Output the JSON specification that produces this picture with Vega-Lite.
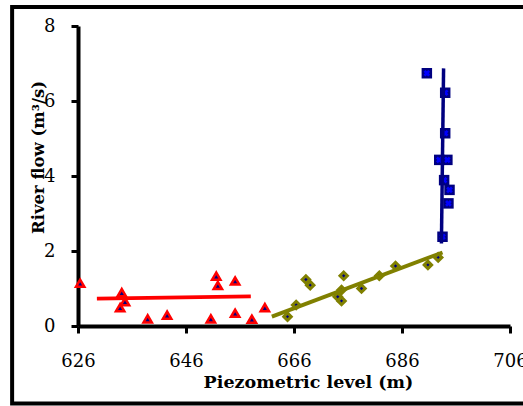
{
  "$schema": "https://vega.github.io/schema/vega-lite/v6.json",
  "width": 432,
  "height": 300,
  "autosize": {"type": "none"},
  "padding": {"left": 78, "top": 26, "right": 13, "bottom": 80},
  "background": "white",
  "config": {
    "font": "DejaVu Serif",
    "view": {"stroke": null},
    "axis": {
      "grid": false,
      "domainColor": "black",
      "domainWidth": 4,
      "tickColor": "black",
      "tickWidth": 3,
      "tickSize": 7,
      "labelFontSize": 18,
      "labelColor": "black",
      "labelFlush": false,
      "labelOverlap": false,
      "titleFontWeight": "bold",
      "titleColor": "black"
    }
  },
  "datasets": {
    "frame": [{"x0": 613.8, "x1": 730, "y0": 8.507, "y1": -2.067}],
    "points": [
      {"series": "A", "x": 626.4, "y": 1.14},
      {"series": "A", "x": 634.1, "y": 0.89},
      {"series": "A", "x": 634.7, "y": 0.65},
      {"series": "A", "x": 633.8, "y": 0.49},
      {"series": "A", "x": 638.9, "y": 0.19},
      {"series": "A", "x": 642.5, "y": 0.29},
      {"series": "A", "x": 650.6, "y": 0.19},
      {"series": "A", "x": 651.6, "y": 1.33},
      {"series": "A", "x": 651.9, "y": 1.08},
      {"series": "A", "x": 655.1, "y": 1.2},
      {"series": "A", "x": 655.1, "y": 0.34},
      {"series": "A", "x": 658.2, "y": 0.18},
      {"series": "A", "x": 660.6, "y": 0.49},
      {"series": "B", "x": 664.8, "y": 0.25},
      {"series": "B", "x": 666.4, "y": 0.56},
      {"series": "B", "x": 668.2, "y": 1.24},
      {"series": "B", "x": 669.0, "y": 1.09},
      {"series": "B", "x": 674.1, "y": 0.78},
      {"series": "B", "x": 674.8, "y": 0.67},
      {"series": "B", "x": 674.8, "y": 0.96},
      {"series": "B", "x": 675.2, "y": 1.34},
      {"series": "B", "x": 678.5, "y": 1.0},
      {"series": "B", "x": 681.8, "y": 1.34},
      {"series": "B", "x": 684.8, "y": 1.6},
      {"series": "B", "x": 690.8, "y": 1.63},
      {"series": "B", "x": 692.7, "y": 1.83},
      {"series": "C", "x": 690.6, "y": 6.74},
      {"series": "C", "x": 694.0, "y": 6.22},
      {"series": "C", "x": 694.0, "y": 5.14},
      {"series": "C", "x": 692.9, "y": 4.43},
      {"series": "C", "x": 694.4, "y": 4.43},
      {"series": "C", "x": 693.8, "y": 3.89},
      {"series": "C", "x": 694.8, "y": 3.63},
      {"series": "C", "x": 694.6, "y": 3.27},
      {"series": "C", "x": 693.5, "y": 2.38}
    ],
    "lines": [
      {"series": "A", "x": 629.5, "y": 0.73},
      {"series": "A", "x": 658.0, "y": 0.79},
      {"series": "B", "x": 661.9, "y": 0.25},
      {"series": "B", "x": 693.5, "y": 1.96},
      {"series": "C", "x": 693.3, "y": 2.2},
      {"series": "C", "x": 693.7, "y": 6.87}
    ]
  },
  "encoding": {
    "x": {
      "field": "x",
      "type": "quantitative",
      "scale": {"domain": [626, 706], "nice": false, "zero": false},
      "axis": {
        "title": "Piezometric level (m)",
        "values": [626, 646, 666, 686, 706],
        "labelFont": "DejaVu Serif",
        "titleFont": "DejaVu Serif",
        "titleFontSize": 17.5,
        "labelPadding": 19,
        "titleX": 230,
        "titleY": 61,
        "titleBaseline": "alphabetic",
        "titleAlign": "center"
      }
    },
    "y": {
      "field": "y",
      "type": "quantitative",
      "scale": {"domain": [0, 8], "nice": false, "zero": false},
      "axis": {
        "title": "River flow (m³/s)",
        "values": [0, 2, 4, 6, 8],
        "labelFont": "DejaVu Serif",
        "titleFont": "DejaVu Serif",
        "titleFontSize": 16.5,
        "labelPadding": 16,
        "titleX": -35,
        "titleY": 131,
        "titleAngle": -90,
        "titleBaseline": "alphabetic",
        "titleAlign": "center"
      }
    }
  },
  "layer": [
    {
      "data": {"name": "frame"},
      "mark": {"type": "rect", "filled": false, "fill": "transparent", "stroke": "black", "strokeWidth": 4, "clip": false},
      "encoding": {
        "x": {"field": "x0", "type": "quantitative"},
        "x2": {"field": "x1"},
        "y": {"field": "y0", "type": "quantitative"},
        "y2": {"field": "y1"}
      }
    },
    {
      "data": {"name": "points"},
      "transform": [{"filter": "datum.series === 'A'"}],
      "mark": {"type": "point", "shape": "triangle-up", "size": 70, "filled": true, "fill": "#000080", "stroke": "#FF0000", "strokeWidth": 2.5, "opacity": 1}
    },
    {
      "data": {"name": "points"},
      "transform": [{"filter": "datum.series === 'B'"}],
      "mark": {"type": "point", "shape": "diamond", "size": 55, "filled": true, "fill": "#000080", "stroke": "#808000", "strokeWidth": 3, "opacity": 1}
    },
    {
      "data": {"name": "points"},
      "transform": [{"filter": "datum.series === 'C'"}],
      "mark": {"type": "point", "shape": "square", "size": 110, "filled": true, "fill": "#000080", "opacity": 1}
    },
    {
      "data": {"name": "points"},
      "transform": [{"filter": "datum.series === 'C'"}],
      "mark": {"type": "point", "shape": "cross", "angle": 45, "size": 45, "filled": true, "fill": "#0000FF", "opacity": 1}
    },
    {
      "data": {"name": "lines"},
      "transform": [{"filter": "datum.series === 'A'"}],
      "mark": {"type": "line", "color": "#FF0000", "strokeWidth": 4}
    },
    {
      "data": {"name": "lines"},
      "transform": [{"filter": "datum.series === 'B'"}],
      "mark": {"type": "line", "color": "#808000", "strokeWidth": 4}
    },
    {
      "data": {"name": "lines"},
      "transform": [{"filter": "datum.series === 'C'"}],
      "mark": {"type": "line", "color": "#000080", "strokeWidth": 3.5, "orient": "vertical"}
    }
  ]
}
